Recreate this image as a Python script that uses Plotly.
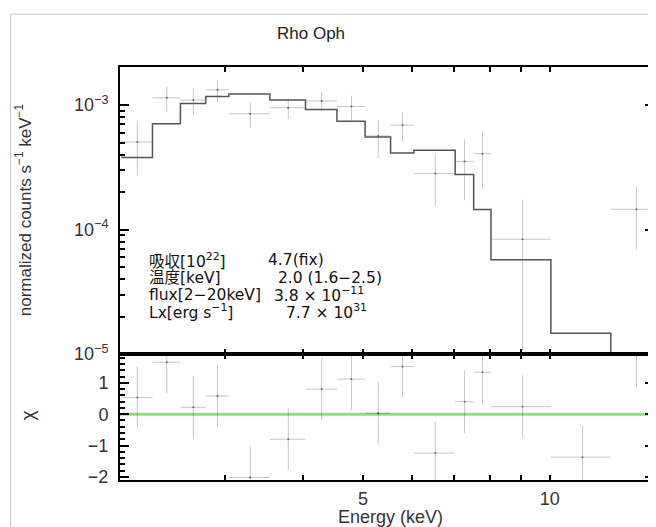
import plotly.graph_objects as go
import math

# ---- data ----
edges = [2.04, 2.29, 2.54, 2.79, 3.04, 3.54, 4.04, 4.54, 5.04, 5.54, 6.04, 7.04, 7.54, 8.04, 10.04, 12.54, 15.04]
data_rate = [5.05e-4, 1.143e-3, 1.097e-3, 1.326e-3, 8.51e-4, 9.52e-4, 1.081e-3, 9.73e-4,
             5.65e-4, 6.9e-4, 2.82e-4, 3.52e-4, 4.07e-4, 8.36e-5, None, 1.455e-4]
data_err = [2.3e-4, 2.6e-4, 2.65e-4, 2.63e-4, 1.94e-4, 1.8e-4, 1.98e-4, 2.16e-4,
            1.93e-4, 1.83e-4, 1.28e-4, 1.8e-4, 1.96e-4, 9.0e-5, None, 7.65e-5]
model_rate = [3.79e-4, 7.07e-4, 1.03e-3, 1.17e-3, 1.23e-3, 1.10e-3, 9.23e-4, 7.43e-4,
              5.53e-4, 4.13e-4, 4.34e-4, 2.77e-4, 1.45e-4, 5.73e-5, 1.47e-5, 5.0e-6]
chi = [0.53, 1.66, 0.22, 0.58, -2.02, -0.80, 0.80, 1.12,
       0.03, 1.52, -1.24, 0.40, 1.34, 0.24, -1.37, 1.87]
chi_err = [1.0, 1.0, 1.0, 1.0, 1.0, 1.0, 1.0, 1.0, 1.0, 1.0, 1.0, 1.0, 1.0, 1.0, 1.0, 1.0]

title_text = "Rho Oph"
ytitle_top = "normalized counts s<sup>−1</sup> keV<sup>−1</sup>"
ytitle_bottom = "χ"
xtitle = "Energy (keV)"
info_labels = ["吸収[10<sup>22</sup>]", "温度[keV]", "flux[2−20keV]", "Lx[erg s<sup>−1</sup>]"]
info_values = ["4.7(fix)", "2.0 (1.6−2.5)", "3.8 × 10<sup>−11</sup>", "7.7 × 10<sup>31</sup>"]

lo = edges[:-1]
hi = edges[1:]
centers = [(a + b) / 2 for a, b in zip(lo, hi)]
xerr_plus = [b - c for b, c in zip(hi, centers)]
xerr_minus = [c - a for a, c in zip(lo, centers)]

CROSS = "rgba(0,0,0,0.22)"
fig = go.Figure()

fig.add_trace(go.Scatter(
    x=centers, y=data_rate, mode="markers", xaxis="x", yaxis="y",
    marker=dict(size=2, color="rgba(40,40,40,0.6)"),
    error_x=dict(type="data", array=xerr_plus, arrayminus=xerr_minus, color=CROSS, thickness=1, width=0),
    error_y=dict(type="data", array=data_err, color=CROSS, thickness=1, width=0),
    showlegend=False, hoverinfo="skip"))

fig.add_trace(go.Scatter(
    x=edges, y=model_rate + [model_rate[-1]], mode="lines", line_shape="hv",
    xaxis="x", yaxis="y", line=dict(color="#555555", width=1.5),
    showlegend=False, hoverinfo="skip"))

fig.add_trace(go.Scatter(
    x=centers, y=chi, mode="markers", xaxis="x2", yaxis="y2",
    marker=dict(size=2, color="rgba(40,40,40,0.6)"),
    error_x=dict(type="data", array=xerr_plus, arrayminus=xerr_minus, color=CROSS, thickness=1, width=0),
    error_y=dict(type="data", array=chi_err, color=CROSS, thickness=1, width=0),
    showlegend=False, hoverinfo="skip"))

xrange = [math.log10(2.03), math.log10(14.72)]
x_minor = [2, 3, 4, 6, 7, 8, 9]
y_minor = [m * 10.0 ** e for e in (-5, -4, -3) for m in range(2, 10)]

axis_common = dict(showline=True, linecolor="black", linewidth=2, mirror="ticks",
                   ticks="inside", tickcolor="black", tickwidth=1.5,
                   showgrid=False, zeroline=False)
tickfont = dict(family="Liberation Sans, Arial, sans-serif", size=18, color="#333333")
minor_y = dict(ticks="inside", ticklen=5, tickcolor="black", tickwidth=1.5)

# page body has an 8px default margin, so the figure is sized to fill the window
fig.update_layout(
    width=648, height=519,
    margin=dict(l=112, r=0, t=59, b=47),
    paper_bgcolor="white", plot_bgcolor="white",
    showlegend=False,
    xaxis=dict(type="log", range=xrange, domain=[0, 1], anchor="y",
               tickvals=[5, 10], ticklen=5, showticklabels=False,
               minor=dict(tickvals=x_minor, ticks="inside", ticklen=5, tickcolor="black", tickwidth=1.5),
               **axis_common),
    yaxis=dict(type="log", range=[-5, -2.694], domain=[0.305, 1], anchor="x",
               tickvals=[1e-5, 1e-4, 1e-3],
               ticktext=["10<sup>−5</sup>", "10<sup>−4</sup>", "10<sup>−3</sup>"],
               ticklen=9, tickfont=tickfont, ticklabelstandoff=6,
               minor=dict(tickvals=y_minor, **minor_y),
               **axis_common),
    xaxis2=dict(type="log", range=xrange, domain=[0, 1], anchor="y2", matches="x",
                tickvals=[5, 10], ticktext=["5", "10"], ticklen=5, tickfont=tickfont,
                ticklabelstandoff=1,
                minor=dict(tickvals=x_minor, ticks="inside", ticklen=5, tickcolor="black", tickwidth=1.5),
                **axis_common),
    yaxis2=dict(range=[-2.1, 1.92], domain=[0, 0.305], anchor="x2",
                tickvals=[-2, -1, 0, 1], ticktext=["−2", "−1", "0", "1"],
                ticklen=9, tickfont=tickfont, ticklabelstandoff=6,
                minor=dict(dtick=0.2, tick0=0, **minor_y),
                **axis_common),
)

# zero line in residual panel
fig.add_shape(type="line", xref="x2 domain", yref="y2", x0=0, x1=1, y0=0, y1=0,
              line=dict(color="rgba(110,210,90,0.75)", width=3), layer="below")

# outer light frame
fig.add_shape(type="line", xref="paper", yref="paper", x0=-0.205, x1=1.05, y0=1.128, y1=1.128,
              line=dict(color="#c8c8c8", width=1))
fig.add_shape(type="line", xref="paper", yref="paper", x0=-0.205, x1=-0.205, y0=1.128, y1=-0.2,
              line=dict(color="#c8c8c8", width=1))

fig.add_annotation(text=title_text, xref="paper", yref="paper", x=0.358, y=1.082,
                   showarrow=False, font=dict(family="Liberation Sans, Arial, sans-serif", size=17, color="#222"),
                   xanchor="center", yanchor="middle")
fig.add_annotation(text=ytitle_top, xref="paper", yref="paper", x=-0.181, y=0.654, textangle=-90,
                   showarrow=False, font=dict(family="Liberation Sans, Arial, sans-serif", size=17, color="#333"),
                   xanchor="center", yanchor="middle")
fig.add_annotation(text=ytitle_bottom, xref="paper", yref="paper", x=-0.1735, y=0.157, textangle=-90,
                   showarrow=False, font=dict(family="Liberation Sans, Arial, sans-serif", size=19, color="#333"),
                   xanchor="center", yanchor="middle")
fig.add_annotation(text=xtitle, xref="paper", yref="paper", x=0.507, y=-0.0896,
                   showarrow=False, font=dict(family="Liberation Sans, Arial, sans-serif", size=18, color="#333"),
                   xanchor="center", yanchor="middle")

info_font = dict(family="DejaVu Sans, Noto Sans CJK JP, sans-serif", size=15.5, color="#111111")
line_y = [0.532, 0.490, 0.449, 0.408]
val_x = [0.2737, 0.2923, 0.2854, 0.3078]
for lab, val, yy, vx in zip(info_labels, info_values, line_y, val_x):
    fig.add_annotation(text=lab, xref="paper", yref="paper", x=0.0504, y=yy, showarrow=False,
                       font=info_font, xanchor="left", yanchor="middle")
    fig.add_annotation(text=val, xref="paper", yref="paper", x=vx, y=yy, showarrow=False,
                       font=info_font, xanchor="left", yanchor="middle")

fig.write_html("out.html")
